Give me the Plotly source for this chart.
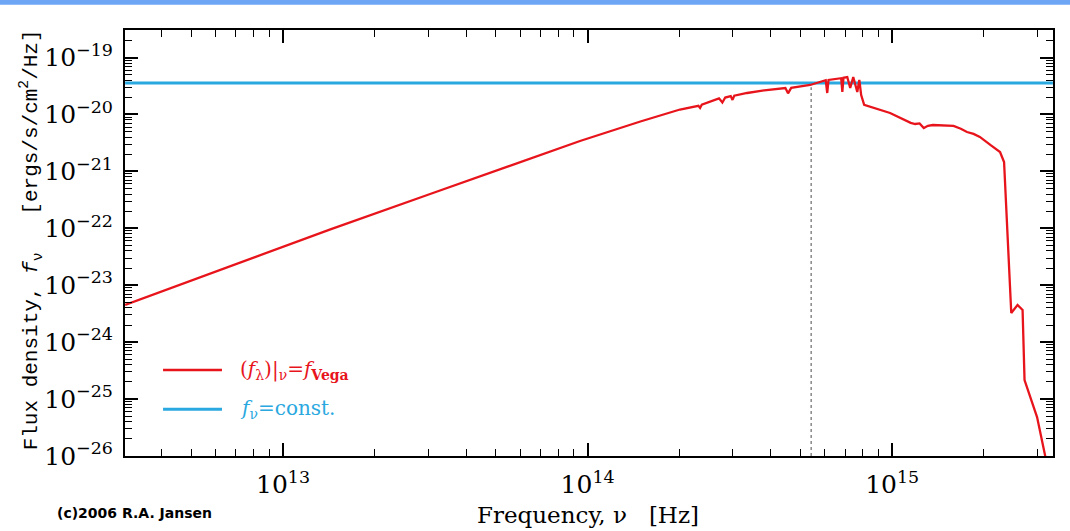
import plotly.graph_objects as go

# ---- data ----
NU_HZ = [3.03e12, 7.80e12, 1.43e13, 3.04e13, 5.16e13, 9.44e13, 1.49e14, 2.01e14, 2.31e14, 2.34e14, 2.37e14,
         2.70e14, 2.77e14, 2.83e14, 2.95e14, 2.99e14, 3.03e14, 3.34e14, 3.80e14, 4.46e14,
         4.55e14, 4.66e14, 5.38e14, 6.05e14, 6.12e14, 6.18e14, 6.80e14, 6.86e14, 6.92e14,
         7.12e14, 7.28e14, 7.45e14, 7.68e14, 7.80e14, 7.91e14, 8.09e14, 9.84e14, 1.09e15,
         1.15e15, 1.19e15, 1.23e15, 1.27e15, 1.31e15, 1.36e15, 1.45e15, 1.59e15, 1.68e15,
         1.76e15, 1.85e15, 1.94e15, 2.10e15, 2.26e15, 2.33e15, 2.46e15, 2.58e15, 2.68e15,
         2.72e15, 2.99e15, 3.18e15, 3.30e15]
F_VEGA = [4.50e-24, 2.94e-23, 9.59e-23, 4.00e-22, 1.09e-21, 3.41e-21, 7.52e-21, 1.22e-20, 1.42e-20, 1.30e-20, 1.48e-20,
          1.92e-20, 1.62e-20, 1.98e-20, 2.10e-20, 1.80e-20, 2.13e-20, 2.38e-20, 2.65e-20, 2.91e-20,
          2.35e-20, 2.93e-20, 3.29e-20, 3.98e-20, 2.38e-20, 4.03e-20, 4.33e-20, 2.48e-20, 4.40e-20,
          4.54e-20, 2.91e-20, 4.54e-20, 2.48e-20, 4.03e-20, 2.19e-20, 1.47e-20, 1.06e-20, 7.98e-21,
          7.10e-21, 6.79e-21, 6.95e-21, 5.78e-21, 6.30e-21, 6.52e-21, 6.35e-21, 6.27e-21, 5.60e-21,
          4.91e-21, 4.55e-21, 4.02e-21, 2.91e-21, 2.19e-21, 1.46e-21, 3.25e-24, 4.50e-24, 3.67e-24,
          2.16e-25, 4.84e-26, 1.00e-26, 4.00e-27]

CONST_NU = [3.03e12, 3.37e15]
CONST_F = [3.56e-20, 3.56e-20]

DOT_NU = [5.42e14, 5.42e14]
DOT_F = [1.0e-26, 3.0e-20]

X_RANGE_LOG = [12.481, 15.528]
Y_RANGE_LOG = [-26.0, -18.517]
X_MINOR = [m * 10.0 ** k for k in range(12, 16) for m in range(2, 10)]
Y_MINOR = [m * 10.0 ** k for k in range(-27, -18) for m in range(2, 10)]

RED = "#e8141c"
BLUE = "#2aa8e0"

fig = go.Figure()
fig.add_trace(go.Scatter(x=CONST_NU, y=CONST_F, mode="lines",
                         line=dict(color=BLUE, width=3), showlegend=False))
fig.add_trace(go.Scatter(x=DOT_NU, y=DOT_F, mode="lines", xaxis="x2", yaxis="y2",
                         line=dict(color="#888888", width=1.5, dash="dot"), showlegend=False))
fig.add_trace(go.Scatter(x=NU_HZ, y=F_VEGA, mode="lines",
                         line=dict(color=RED, width=2.3), showlegend=False))

major = dict(
    type="log", showline=True, linecolor="black", linewidth=2, mirror="allticks",
    ticks="inside", ticklen=13, tickwidth=1.6, tickcolor="black",
    showgrid=False, zeroline=False, dtick=1, exponentformat="power",
    ticklabelstandoff=6,
    tickfont=dict(family="DejaVu Serif", size=20, color="black"),
)
minor = dict(
    type="log", showline=True, linecolor="black", linewidth=2, mirror="allticks",
    ticks="inside", ticklen=7, tickwidth=1.2, tickcolor="black",
    showgrid=False, zeroline=False, tickmode="array", showticklabels=False,
)

fig.update_layout(
    width=1070, height=531,
    margin=dict(l=125, r=17, t=30, b=75),
    paper_bgcolor="white", plot_bgcolor="white",
    xaxis=dict(range=X_RANGE_LOG, **major),
    yaxis=dict(range=Y_RANGE_LOG, **major),
    xaxis2=dict(range=X_RANGE_LOG, overlaying="x", anchor="y2", side="bottom",
                tickvals=X_MINOR, **minor),
    yaxis2=dict(range=Y_RANGE_LOG, overlaying="y", anchor="x2", side="left",
                tickvals=Y_MINOR, **minor),
    showlegend=False,
)

# top blue band
fig.add_shape(type="rect", xref="paper", yref="paper", x0=-0.2, x1=1.1, y0=1.059, y1=1.2,
              line=dict(width=0), fillcolor="#6ea6f5", layer="above")

# legend (drawn manually)
fig.add_shape(type="line", xref="paper", yref="paper", x0=0.041, x1=0.1045, y0=0.202, y1=0.202,
              line=dict(color=RED, width=2.5))
fig.add_shape(type="line", xref="paper", yref="paper", x0=0.041, x1=0.1045, y0=0.110, y1=0.110,
              line=dict(color=BLUE, width=3))
fig.add_annotation(xref="paper", yref="paper", x=0.122, y=0.202, xanchor="left", yanchor="middle",
                   text="(<i>f</i><sub>λ</sub>)|<sub>ν</sub>=<i>f</i><sub><b>Vega</b></sub>",
                   showarrow=False, font=dict(family="DejaVu Serif", size=20, color=RED))
fig.add_annotation(xref="paper", yref="paper", x=0.122, y=0.110, xanchor="left", yanchor="middle",
                   text="<i>f</i><sub>ν</sub>=const.",
                   showarrow=False, font=dict(family="DejaVu Serif", size=20, color=BLUE))

# axis titles
fig.add_annotation(xref="paper", yref="paper", x=-0.102, y=0.507, xanchor="center", yanchor="middle",
                   textangle=-90, showarrow=False,
                   text="Flux density, <i>f</i><sub>ν</sub>&nbsp;&nbsp;&nbsp;[ergs/s/cm<sup>2</sup>/Hz]",
                   font=dict(family="Liberation Mono", size=21, color="black"))
fig.add_annotation(xref="paper", yref="paper", x=0.499, y=-0.1385, xanchor="center", yanchor="middle",
                   showarrow=False, text="Frequency, ν&nbsp;&nbsp;&nbsp;[Hz]",
                   font=dict(family="DejaVu Serif", size=23, color="black"))
fig.add_annotation(xref="paper", yref="paper", x=-0.0754, y=-0.134, xanchor="left", yanchor="middle",
                   showarrow=False, text="<b>(c)2006 R.A. Jansen</b>",
                   font=dict(family="DejaVu Sans", size=14, color="black"))

fig.write_html("out.html", config={"displayModeBar": False},
               post_script="document.body.style.margin='0px';")
